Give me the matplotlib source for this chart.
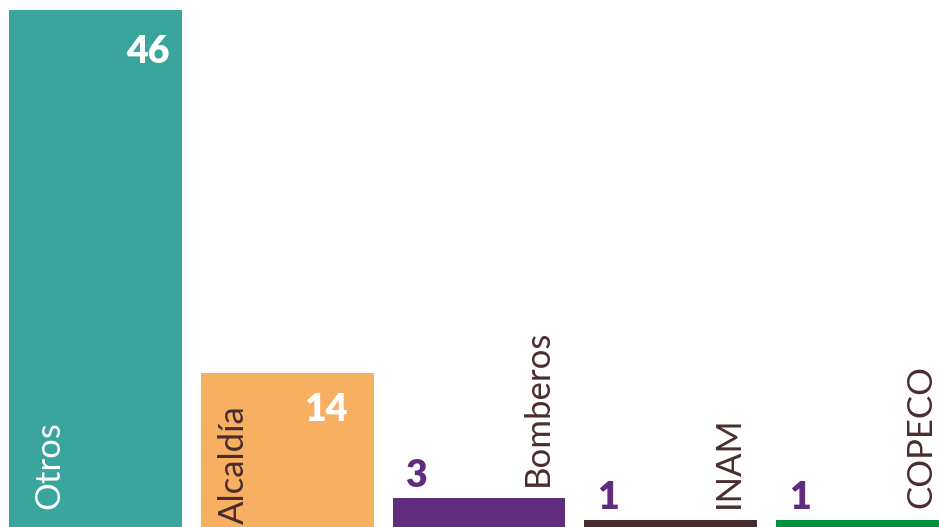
import matplotlib
matplotlib.use("Agg")
import matplotlib.pyplot as plt
from matplotlib.transforms import offset_copy

# incident counts by reporting body
categories = ["Otros", "Alcaldía", "Bomberos", "INAM", "COPECO"]
counts = [46, 14, 3, 1, 1]
bar_colors = ["#3aa59c", "#f7b062", "#5f2d7c", "#4a2c2f", "#00913f"]

TEXT_DARK = "#4a2c2f"
NUM_PURPLE = "#5f2d7c"
FAMILY = ["Lato", "DejaVu Sans"]

fig = plt.figure(figsize=(9.39, 5.27), dpi=100)
ax = fig.add_axes([0, 0, 1, 1])
# baseline sits just under the bottom edge, last bar runs off the right edge
Y0 = 0.414
ax.set_xlim(-0.498, 4.399)
ax.set_ylim(Y0, 46.89)
ax.axis("off")

width = 0.902
xs = list(range(len(categories)))
ax.bar(xs, counts, width=width, color=bar_colors, linewidth=0)

px = 72 / fig.dpi  # points per pixel


def shifted(dx, dy):
    return offset_copy(ax.transData, fig=fig, x=dx * px, y=dy * px, units="points")


for i, (x, v, name) in enumerate(zip(xs, counts, categories)):
    left, right = x - width / 2, x + width / 2
    if v > 10:
        # big bars: value in white at top-right, name in the bar's bottom-left
        dx = -12 if i == 0 else -26
        dy = -53 if i == 0 else -48
        ax.text(right, v, str(v), transform=shifted(dx, dy), ha="right", va="baseline",
                color="white", fontsize=27, fontweight="heavy", family=FAMILY)
        name_color = "white" if i == 0 else TEXT_DARK
        ndx = 24 if i == 0 else 17
        ndy = 18 if i == 0 else 3
        ax.text(left, Y0, name, transform=shifted(ndx, ndy), rotation=90,
                ha="left", va="bottom", color=name_color, fontsize=25,
                family=FAMILY)
    else:
        # small bars: purple value above the left edge, name above the right edge
        ax.text(left, v, str(v), transform=shifted(13, 11), ha="left", va="baseline",
                color=NUM_PURPLE, fontsize=27, fontweight="heavy", family=FAMILY)
        ax.text(right, v, name, transform=shifted(-12, 12), rotation=90,
                ha="right", va="bottom", color=TEXT_DARK, fontsize=25,
                family=FAMILY)

fig.savefig("out.png", dpi=100)
